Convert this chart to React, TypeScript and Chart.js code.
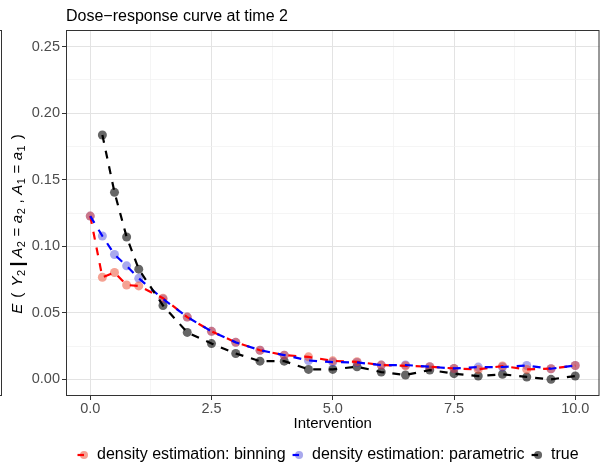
import React, { useEffect, useRef } from "react";
import { Chart, registerables } from "chart.js";

Chart.register(...registerables);

const FONT = "'Liberation Sans', Arial, Helvetica, sans-serif";

// Intervention levels where the expected outcome was evaluated
const interventions = [0, 0.25, 0.5, 0.75, 1, 1.5, 2, 2.5, 3, 3.5, 4, 4.5, 5, 5.5, 6, 6.5, 7, 7.5, 8, 8.5, 9, 9.5, 10];

// Estimated / true expected outcome at time 2
const binning = [0.1227, 0.0767, 0.0803, 0.0709, 0.0702, 0.061, 0.0468, 0.0361, 0.0278, 0.0219, 0.0182, 0.0169, 0.0139, 0.0132, 0.0107, 0.0102, 0.0095, 0.0082, 0.0075, 0.01, 0.0075, 0.008, 0.0104];
const parametric = [0.1227, 0.1077, 0.0938, 0.0853, 0.0759, 0.0604, 0.0468, 0.0361, 0.0278, 0.0219, 0.0182, 0.0142, 0.013, 0.0127, 0.0107, 0.0108, 0.0095, 0.0082, 0.0092, 0.0093, 0.0104, 0.008, 0.0104];
const truth: (number | null)[] = [null, 0.1836, 0.1405, 0.107, 0.0828, 0.0555, 0.0353, 0.0269, 0.0194, 0.0137, 0.0137, 0.0075, 0.0075, 0.0095, 0.0055, 0.0033, 0.007, 0.0043, 0.0025, 0.0038, 0.0018, 0.0, 0.0025];

const xMajorTicks = [0, 2.5, 5, 7.5, 10];
const xMinorTicks = [1.25, 3.75, 6.25, 8.75];
const yMajorTicks = [0, 0.05, 0.1, 0.15, 0.2, 0.25];
const yMinorTicks = [0.025, 0.075, 0.125, 0.175, 0.225];

const seriesLabels = ["density estimation: binning", "density estimation: parametric", "true"];
const lineColors = ["#ff0000", "#0000ff", "#000000"];
const pointColors = ["rgba(235,70,40,0.5)", "rgba(40,40,210,0.4)", "rgba(0,0,0,0.6)"];

const chartTitle = "Dose\u2212response curve at time 2";
const xTitle = "Intervention";

const DASH = [8, 8];
const LINE_W = 2.2;
const POINT_R = 4.5;

function toPoints(values: (number | null)[]) {
  const out: { x: number; y: number }[] = [];
  values.forEach((v, i) => {
    if (v !== null) out.push({ x: interventions[i], y: v });
  });
  return out;
}

const isMajor = (list: number[], v: number) => list.some((m) => Math.abs(m - v) < 1e-9);

// Frame, titles, legend and the rich y-axis label
const decorations = {
  id: "decorations",
  afterDraw(chart: Chart) {
    const ctx = chart.ctx;
    const a = chart.chartArea;
    ctx.save();

    // panel border
    ctx.strokeStyle = "#333333";
    ctx.lineWidth = 1;
    ctx.strokeRect(a.left + 0.5, a.top + 0.5, a.right - a.left - 1, a.bottom - a.top - 1);

    // neighbouring frame edge on the far left
    ctx.strokeRect(-10, a.top + 0.5, 11.5, a.bottom - a.top - 1);

    // plot title
    ctx.fillStyle = "#000000";
    ctx.font = `16px ${FONT}`;
    ctx.textBaseline = "middle";
    ctx.textAlign = "left";
    ctx.fillText(chartTitle, a.left, 17);

    // x-axis title
    ctx.font = `15px ${FONT}`;
    ctx.textAlign = "center";
    ctx.fillText(xTitle, (a.left + a.right) / 2, 424);

    // legend: first dash of the dashed key line plus the point
    const ly = 455;
    let lx = 75.5;
    ctx.font = `16px ${FONT}`;
    ctx.textAlign = "left";
    seriesLabels.forEach((label, i) => {
      const cx = lx + 8.5;
      ctx.fillStyle = pointColors[i];
      ctx.beginPath();
      ctx.arc(cx, ly, POINT_R - 0.5, 0, Math.PI * 2);
      ctx.fill();
      ctx.strokeStyle = lineColors[i];
      ctx.lineWidth = LINE_W;
      ctx.beginPath();
      ctx.moveTo(lx + 2, ly);
      ctx.lineTo(lx + 8.5, ly);
      ctx.stroke();
      ctx.fillStyle = "#000000";
      const tx = lx + 17 + 4.5;
      ctx.fillText(label, tx, ly);
      lx = tx + ctx.measureText(label).width + 5;
    });

    // y-axis title: E ( Y2 | A2 = a2 , A1 = a1 )
    const size = 15;
    const it = `italic ${size}px ${FONT}`;
    const rm = `${size}px ${FONT}`;
    const sb = `${Math.round(size * 0.72)}px ${FONT}`;
    const bar = `bold ${size + 3}px ${FONT}`;
    const g = 4.6;
    const segs: { t: string; f: string; dy: number; gap: number }[] = [
      { t: "E", f: it, dy: 0, gap: 0 },
      { t: "(", f: rm, dy: 0, gap: g + 1.5 },
      { t: "Y", f: it, dy: 0, gap: g + 1.5 },
      { t: "2", f: sb, dy: 3, gap: 0.5 },
      { t: "|", f: bar, dy: 1, gap: g - 1 },
      { t: "A", f: it, dy: 0, gap: g - 1 },
      { t: "2", f: sb, dy: 3, gap: 0.5 },
      { t: "=", f: rm, dy: 0, gap: g },
      { t: "a", f: it, dy: 0, gap: g },
      { t: "2", f: sb, dy: 3, gap: 0.5 },
      { t: ",", f: rm, dy: 0, gap: g },
      { t: "A", f: it, dy: 0, gap: g },
      { t: "1", f: sb, dy: 3, gap: 0.5 },
      { t: "=", f: rm, dy: 0, gap: g },
      { t: "a", f: it, dy: 0, gap: g },
      { t: "1", f: sb, dy: 3, gap: 0.5 },
      { t: ")", f: rm, dy: 0, gap: g + 1.5 },
    ];
    let total = 0;
    const widths = segs.map((s) => {
      ctx.font = s.f;
      const w = ctx.measureText(s.t).width;
      total += s.gap + w;
      return w;
    });
    ctx.translate(22, 224);
    ctx.rotate(-Math.PI / 2);
    ctx.textAlign = "left";
    ctx.textBaseline = "alphabetic";
    ctx.fillStyle = "#000000";
    let px = -total / 2;
    segs.forEach((s, i) => {
      px += s.gap;
      ctx.font = s.f;
      ctx.fillText(s.t, px, s.dy);
      px += widths[i];
    });

    ctx.restore();
  },
};

export default function App() {
  const canvasRef = useRef<HTMLCanvasElement | null>(null);

  useEffect(() => {
    document.body.style.margin = "0";
    const canvas = canvasRef.current;
    if (!canvas) return;

    const series = [binning, parametric, truth];
    const pointSets = series.map((vals, i) => ({
      label: seriesLabels[i] + " points",
      data: toPoints(vals),
      showLine: false,
      pointRadius: POINT_R,
      pointHoverRadius: POINT_R,
      pointBorderWidth: 0,
      pointBackgroundColor: pointColors[i],
      order: 10 + i,
    }));
    const lineSets = series.map((vals, i) => ({
      label: seriesLabels[i],
      data: toPoints(vals),
      borderColor: lineColors[i],
      borderWidth: LINE_W,
      borderDash: DASH,
      pointRadius: 0,
      fill: false,
      tension: 0,
      order: 3 - i,
    }));

    const chart = new Chart(canvas, {
      type: "line",
      data: { datasets: [...pointSets, ...lineSets] as any },
      options: {
        responsive: false,
        animation: false,
        layout: { padding: { top: 30, right: 0, left: 0, bottom: 0 } },
        plugins: {
          legend: { display: false },
          title: { display: false },
          tooltip: { enabled: false },
        },
        scales: {
          x: {
            type: "linear",
            min: -0.5,
            max: 10.5,
            afterBuildTicks: (s: any) => {
              s.ticks = [...xMajorTicks, ...xMinorTicks].sort((p, q) => p - q).map((v) => ({ value: v }));
            },
            afterFit: (s: any) => {
              s.height = 72;
            },
            ticks: {
              autoSkip: false,
              maxRotation: 0,
              padding: 0,
              color: "#4d4d4d",
              font: { family: FONT, size: 14.5 },
              callback: (v: any) => (isMajor(xMajorTicks, Number(v)) ? Number(v).toFixed(1) : ""),
            },
            grid: {
              color: (c: any) => (c.tick && isMajor(xMajorTicks, c.tick.value) ? "#e3e3e3" : "#f0f0f0"),
              lineWidth: (c: any) => (c.tick && isMajor(xMajorTicks, c.tick.value) ? 1 : 0.7),
              tickColor: (c: any) => (c.tick && isMajor(xMajorTicks, c.tick.value) ? "#333333" : "rgba(0,0,0,0)"),
              tickLength: 4,
              drawTicks: true,
            },
            border: { display: false },
          },
          y: {
            type: "linear",
            min: -0.0125,
            max: 0.2625,
            afterBuildTicks: (s: any) => {
              s.ticks = [...yMajorTicks, ...yMinorTicks].sort((p, q) => p - q).map((v) => ({ value: v }));
            },
            afterFit: (s: any) => {
              s.width = 66;
            },
            ticks: {
              autoSkip: false,
              padding: 2,
              color: "#4d4d4d",
              font: { family: FONT, size: 14.5 },
              callback: (v: any) => (isMajor(yMajorTicks, Number(v)) ? Number(v).toFixed(2) : ""),
            },
            grid: {
              color: (c: any) => (c.tick && isMajor(yMajorTicks, c.tick.value) ? "#e3e3e3" : "#f0f0f0"),
              lineWidth: (c: any) => (c.tick && isMajor(yMajorTicks, c.tick.value) ? 1 : 0.7),
              tickColor: (c: any) => (c.tick && isMajor(yMajorTicks, c.tick.value) ? "#333333" : "rgba(0,0,0,0)"),
              tickLength: 4,
              drawTicks: true,
            },
            border: { display: false },
          },
        },
      },
      plugins: [decorations as any],
    });

    return () => chart.destroy();
  }, []);

  return (
    <div style={{ width: 604, height: 468, background: "#ffffff" }}>
      <canvas ref={canvasRef} width={604} height={468} style={{ display: "block" }} />
    </div>
  );
}
